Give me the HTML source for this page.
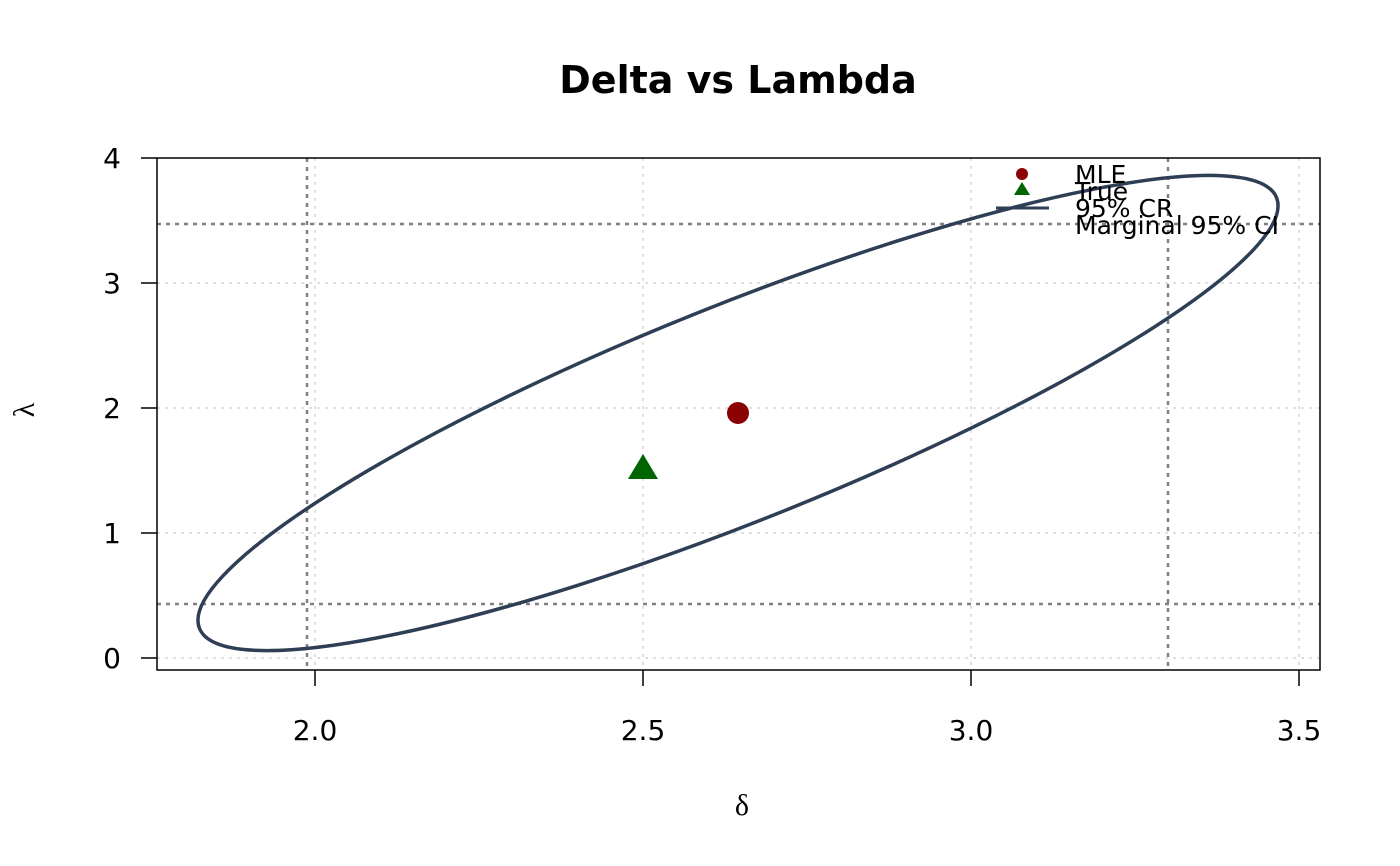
<!DOCTYPE html>
<html><head><style>body{margin:0;background:#fff}svg{display:block}</style></head><body>
<svg width="1400" height="866" xmlns="http://www.w3.org/2000/svg" font-family="DejaVu Sans, Liberation Sans, sans-serif">
<rect width="1400" height="866" fill="#fff"/>
<text x="738" y="93" text-anchor="middle" font-size="38" font-weight="bold">Delta vs Lambda</text>
<g stroke="#e0e0e0" stroke-width="2" stroke-dasharray="3,5">
<line x1="315" y1="158" x2="315" y2="670"/><line x1="643" y1="158" x2="643" y2="670"/>
<line x1="971" y1="158" x2="971" y2="670"/><line x1="1299" y1="158" x2="1299" y2="670"/>
<line x1="157" y1="658" x2="1320" y2="658"/><line x1="157" y1="533" x2="1320" y2="533"/>
<line x1="157" y1="408" x2="1320" y2="408"/><line x1="157" y1="283" x2="1320" y2="283"/>
</g>
<g stroke="#808080" stroke-width="2.5" stroke-dasharray="4,5">
<line x1="307" y1="158" x2="307" y2="670"/><line x1="1168" y1="158" x2="1168" y2="670"/>
<line x1="157" y1="224" x2="1320" y2="224"/><line x1="157" y1="604" x2="1320" y2="604"/>
</g>
<ellipse cx="738" cy="413" rx="580" ry="108" transform="rotate(-21.8 738 413)" fill="none" stroke="#2e3e55" stroke-width="3.5"/>
<circle cx="738" cy="413" r="11" fill="#8b0000"/>
<polygon points="643,454 658,479 628,479" fill="#006400"/>
<rect x="157" y="158" width="1163" height="512" fill="none" stroke="#000" stroke-width="1.5"/>
<g stroke="#000" stroke-width="1.5">
<line x1="315" y1="670" x2="315" y2="686"/><line x1="643" y1="670" x2="643" y2="686"/>
<line x1="971" y1="670" x2="971" y2="686"/><line x1="1299" y1="670" x2="1299" y2="686"/>
<line x1="157" y1="658" x2="141" y2="658"/><line x1="157" y1="533" x2="141" y2="533"/>
<line x1="157" y1="408" x2="141" y2="408"/><line x1="157" y1="283" x2="141" y2="283"/>
<line x1="157" y1="158" x2="141" y2="158"/>
</g>
<g font-size="28" text-anchor="middle">
<text x="315" y="740">2.0</text><text x="643" y="740">2.5</text><text x="971" y="740">3.0</text><text x="1299" y="740">3.5</text>
</g>
<g font-size="28" text-anchor="end">
<text x="121" y="668">0</text><text x="121" y="543">1</text><text x="121" y="418">2</text><text x="121" y="293">3</text><text x="121" y="168">4</text>
</g>
<text x="742" y="815" text-anchor="middle" font-size="30" font-family="Liberation Serif, serif">δ</text>
<text x="34" y="410" text-anchor="middle" font-size="30" font-family="Liberation Serif, serif" transform="rotate(-90 34 410)">λ</text>
<circle cx="1022" cy="174" r="6" fill="#8b0000"/>
<polygon points="1022,182 1030,195 1014,195" fill="#006400"/>
<line x1="996" y1="208" x2="1049" y2="208" stroke="#2e3e55" stroke-width="3"/>
<g font-size="25">
<text x="1075" y="183">MLE</text><text x="1075" y="200">True</text><text x="1075" y="217">95% CR</text><text x="1075" y="234">Marginal 95% CI</text>
</g>
</svg>
</body></html>
